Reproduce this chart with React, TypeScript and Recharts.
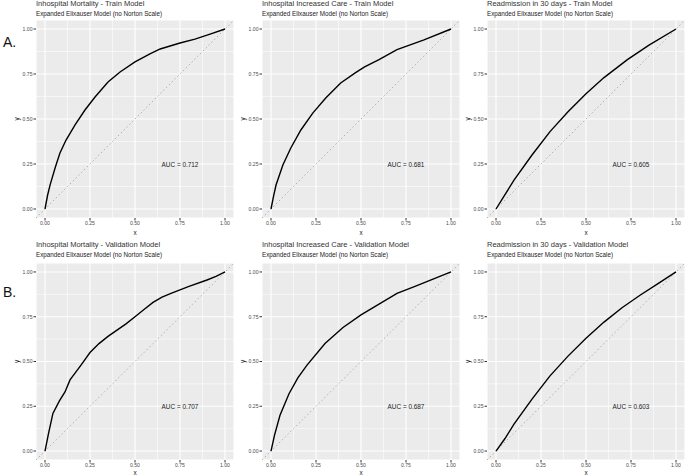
import React from "react";
import { LineChart, Line, XAxis, YAxis, CartesianGrid, ReferenceLine, ReferenceDot } from "recharts";

// ROC curves (false positive rate / true positive rate)
const fprMortTrain = [0, 0.014, 0.028, 0.056, 0.083, 0.117, 0.167, 0.222, 0.278, 0.35, 0.417, 0.5, 0.583, 0.64, 0.75, 0.833, 0.917, 1];
const tprMortTrain = [0, 0.075, 0.133, 0.228, 0.311, 0.383, 0.467, 0.55, 0.622, 0.706, 0.761, 0.817, 0.862, 0.889, 0.922, 0.944, 0.972, 1];

const fprCareTrain = [0, 0.014, 0.028, 0.066, 0.11, 0.166, 0.232, 0.304, 0.387, 0.47, 0.52, 0.6, 0.7, 0.85, 1];
const tprCareTrain = [0, 0.07, 0.133, 0.244, 0.339, 0.439, 0.533, 0.617, 0.7, 0.758, 0.79, 0.83, 0.885, 0.94, 1];

const fprReadTrain = [0, 0.05, 0.1, 0.2, 0.3, 0.4, 0.5, 0.6, 0.73, 0.85, 1];
const tprReadTrain = [0, 0.08, 0.16, 0.3, 0.43, 0.54, 0.64, 0.73, 0.83, 0.91, 1];

const fprMortVal = [0, 0.02, 0.044, 0.08, 0.111, 0.139, 0.2, 0.25, 0.3, 0.35, 0.4, 0.45, 0.5, 0.55, 0.6, 0.65, 0.7, 0.8, 0.9, 0.95, 1];
const tprMortVal = [0, 0.1, 0.21, 0.28, 0.33, 0.397, 0.48, 0.55, 0.6, 0.64, 0.675, 0.71, 0.75, 0.79, 0.83, 0.86, 0.88, 0.92, 0.955, 0.975, 1];

const fprCareVal = [0, 0.02, 0.05, 0.1, 0.15, 0.2, 0.3, 0.4, 0.5, 0.6, 0.7, 0.8, 0.9, 1];
const tprCareVal = [0, 0.09, 0.2, 0.32, 0.41, 0.48, 0.6, 0.69, 0.76, 0.82, 0.88, 0.92, 0.96, 1];

const fprReadVal = [0, 0.05, 0.1, 0.2, 0.3, 0.4, 0.5, 0.6, 0.7, 0.8, 0.9, 1];
const tprReadVal = [0, 0.07, 0.15, 0.29, 0.42, 0.53, 0.63, 0.72, 0.8, 0.87, 0.935, 1];

const titles = [
  "Inhospital Mortality - Train Model",
  "Inhospital Increased Care - Train Model",
  "Readmission in 30 days - Train Model",
  "Inhospital Mortality - Validation Model",
  "Inhospital Increased Care - Validation Model",
  "Readmission in 30 days - Validation Model",
];
const subtitle = "Expanded Elixauser Model (no Norton Scale)";
const aucLabels = ["AUC = 0.712", "AUC = 0.681", "AUC = 0.605", "AUC = 0.707", "AUC = 0.687", "AUC = 0.603"];
const rowLabels = ["A.", "B."];

const majorTicks = [0, 0.25, 0.5, 0.75, 1];
const minorTicks = [0.125, 0.375, 0.625, 0.875];
const diagonal = [-0.05, 1.05];

const curves = [
  [fprMortTrain, tprMortTrain],
  [fprCareTrain, tprCareTrain],
  [fprReadTrain, tprReadTrain],
  [fprMortVal, tprMortVal],
  [fprCareVal, tprCareVal],
  [fprReadVal, tprReadVal],
];

const FONT = "'Liberation Sans', Arial, sans-serif";
const panelLeft = [36, 262, 487];
const plotTop = [20, 263];
const plotBottom = [218, 460];
const titleY = [4, 245];
const rowLabelY = [42, 292];
const xLabelOffset = [3, 5];

const fmt = (v: number) => v.toFixed(2);

function RocPanel({ idx }: { idx: number }) {
  const row = Math.floor(idx / 3);
  const col = idx % 3;
  const [fpr, tpr] = curves[idx];
  const data = fpr.map((x, i) => ({ x, y: tpr[i] }));
  const h = plotBottom[row] - plotTop[row] + 40;
  const tick = { fontSize: 5.1, fill: "#4D4D4D", fontFamily: FONT };

  return (
    <div style={{ position: "absolute", left: panelLeft[col] - 36, top: plotTop[row] - 20 }}>
      <LineChart width={234} height={h} data={data} margin={{ top: 20, right: 0, bottom: 0, left: 0 }}>
        <CartesianGrid fill="#EBEBEB" stroke="#FFFFFF" strokeWidth={1.1} />
        <XAxis
          type="number"
          dataKey="x"
          domain={[-0.05, 1.05]}
          ticks={majorTicks}
          tickFormatter={fmt}
          allowDataOverflow
          axisLine={false}
          tickSize={2.5}
          tickMargin={0.5}
          tickLine={{ stroke: "#333" }}
          tick={tick}
          height={20}
          label={{
            value: "x",
            position: "insideBottom",
            offset: xLabelOffset[row],
            style: { fontSize: 6.4, fill: "#222", fontFamily: FONT },
          }}
        />
        <YAxis
          type="number"
          dataKey="y"
          domain={[-0.05, 1.05]}
          ticks={majorTicks}
          tickFormatter={fmt}
          allowDataOverflow
          axisLine={false}
          tickSize={2.5}
          tickMargin={1}
          tickLine={{ stroke: "#333" }}
          tick={tick}
          width={36}
          label={{
            value: "y",
            angle: -90,
            position: "insideLeft",
            offset: 17,
            style: { fontSize: 6.4, fill: "#222", fontFamily: FONT, textAnchor: "middle" },
          }}
        />
        {minorTicks.map((v) => (
          <ReferenceLine key={"mx" + v} x={v} stroke="#FFFFFF" strokeWidth={0.55} />
        ))}
        {minorTicks.map((v) => (
          <ReferenceLine key={"my" + v} y={v} stroke="#FFFFFF" strokeWidth={0.55} />
        ))}
        <ReferenceLine
          segment={[
            { x: diagonal[0], y: diagonal[0] },
            { x: diagonal[1], y: diagonal[1] },
          ]}
          stroke="#A0A0A0"
          strokeWidth={0.8}
          strokeDasharray="1.5 2.5"
        />
        <ReferenceDot
          x={0.75}
          y={0.25}
          r={0}
          shape={(p: any) => (
            <text
              x={p.cx}
              y={p.cy}
              textAnchor="middle"
              dominantBaseline="central"
              fontSize={6.4}
              fill="#222"
              fontFamily={FONT}
            >
              {aucLabels[idx]}
            </text>
          )}
        />
        <Line
          type="linear"
          dataKey="y"
          stroke="#000000"
          strokeWidth={1.4}
          dot={false}
          isAnimationActive={false}
        />
      </LineChart>
    </div>
  );
}

export default function App() {
  return (
    <div
      style={{
        position: "absolute",
        left: 0,
        top: 0,
        width: 685,
        height: 475,
        overflow: "hidden",
        background: "#FFFFFF",
        fontFamily: FONT,
      }}
    >
      {[0, 1, 2, 3, 4, 5].map((i) => (
        <RocPanel key={i} idx={i} />
      ))}
      {titles.map((t, i) => {
        const row = Math.floor(i / 3);
        const col = i % 3;
        return (
          <React.Fragment key={t}>
            <div
              style={{
                position: "absolute",
                left: panelLeft[col],
                top: titleY[row] - 5,
                fontSize: 7.5,
                lineHeight: "10px",
                color: "#333",
                whiteSpace: "nowrap",
              }}
            >
              {t}
            </div>
            <div
              style={{
                position: "absolute",
                left: panelLeft[col],
                top: titleY[row] + 10 - 4,
                fontSize: 6.3,
                lineHeight: "8px",
                color: "#222",
                whiteSpace: "nowrap",
              }}
            >
              {subtitle}
            </div>
          </React.Fragment>
        );
      })}
      {rowLabels.map((l, i) => (
        <div
          key={l}
          style={{
            position: "absolute",
            left: 3,
            top: rowLabelY[i] - 8,
            fontSize: 14,
            lineHeight: "16px",
            color: "#111",
          }}
        >
          {l}
        </div>
      ))}
    </div>
  );
}
